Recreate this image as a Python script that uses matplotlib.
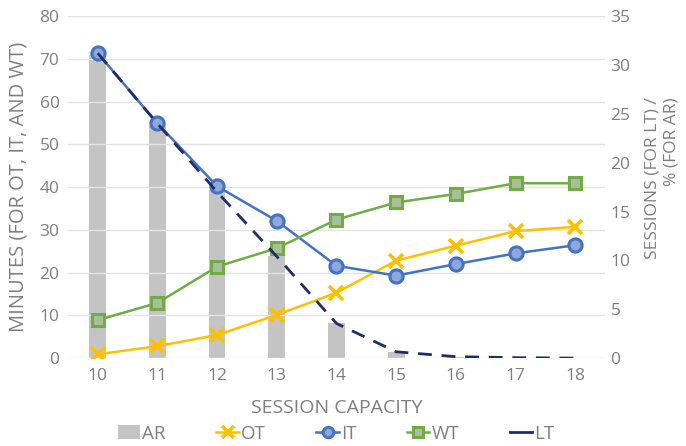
import matplotlib
matplotlib.use("Agg")
import matplotlib.pyplot as plt
from matplotlib.lines import Line2D
from matplotlib.patches import Patch
import numpy as np

plt.rcParams['font.family'] = ['Open Sans', 'DejaVu Sans']

capacity = ["10", "11", "12", "13", "14", "15", "16", "17", "18"]
ot = [0.9, 2.8, 5.4, 10.1, 15.3, 22.8, 26.3, 29.7, 30.7]
it = [71.3, 54.9, 40.2, 32.1, 21.6, 19.3, 22.0, 24.5, 26.4]
wt = [8.9, 12.9, 21.4, 25.7, 32.4, 36.4, 38.4, 40.9, 40.9]
ar = [31.0, 23.7, 17.2, 10.4, 3.55, 0.65, 0.1, 0.0, 0.0]
lt = [31.2, 24.0, 17.0, 10.4, 3.55, 0.65, 0.15, 0.05, 0.0]

text_color = "#7f7f7f"
c_ar = "#c4c4c4"
c_ot = "#ffc000"
c_it = "#4472c4"
c_it_face = "#8fa8d8"
c_wt = "#70ad47"
c_wt_face = "#a9bf9c"
c_lt = "#1f2d6b"

fig = plt.figure(figsize=(6.86, 4.46), dpi=100)
ax = fig.add_axes([0.099, 0.197, 0.783, 0.767])
ax2 = ax.twinx()

x = np.arange(len(capacity))

# left axis: minutes
ax.set_ylim(0, 80)
ax.set_yticks(range(0, 81, 10))
ax.set_xlim(-0.5, len(capacity) - 0.5)
ax.grid(axis='y', color="#e3e3e3", linewidth=1.0)
ax.set_axisbelow(True)

# right axis: sessions / percent
ax2.set_ylim(0, 35)
ax2.set_yticks(range(0, 36, 5))

ax2.bar(x, ar, width=0.28, color=c_ar, zorder=1)

ax.set_zorder(ax2.get_zorder() + 1)
ax.patch.set_visible(False)

ax.plot(x, ot, color=c_ot, lw=1.8, marker='x', ms=10, mew=2.6, zorder=3)
ax.plot(x, it, color=c_it, lw=1.8, marker='o', ms=9.5, mfc=c_it_face,
        mec=c_it, mew=2.2, zorder=3)
ax.plot(x, wt, color=c_wt, lw=1.8, marker='s', ms=8.5, mfc=c_wt_face,
        mec=c_wt, mew=2.2, zorder=3)

# LT belongs to the right axis; draw it on the front axes in right-axis units
lt_scaled = [v * 80 / 35 for v in lt]
ax.plot(x, lt_scaled, color=c_lt, lw=2.0, dashes=(5, 3.5), zorder=4)

for a in (ax, ax2):
    for s in a.spines.values():
        s.set_visible(False)
    a.tick_params(length=0, colors=text_color, labelsize=12.5)

ax.set_xticks(x)
ax.set_xticklabels(capacity)
ax.tick_params(axis='x', pad=7)
ax.tick_params(axis='y', pad=6)
ax2.tick_params(axis='y', pad=4)

ax.set_xlabel("SESSION CAPACITY", color=text_color, fontsize=14, labelpad=11)
ax.set_ylabel("MINUTES (FOR OT, IT, AND WT)", color=text_color, fontsize=14.5,
              labelpad=8)
fig.text(0.965, 0.601, "SESSIONS (FOR LT) /\n% (FOR AR)", rotation=90,
         color=text_color, fontsize=12.5, ha='center', va='center',
         multialignment='right', linespacing=1.3)

handles = [
    Patch(facecolor=c_ar, edgecolor='none'),
    Line2D([], [], color=c_ot, lw=1.8, marker='x', ms=9, mew=2.6),
    Line2D([], [], color=c_it, lw=1.8, marker='o', ms=7.5, mfc=c_it_face,
           mec=c_it, mew=2.2),
    Line2D([], [], color=c_wt, lw=1.8, marker='s', ms=7, mfc=c_wt_face,
           mec=c_wt, mew=2.2),
    Line2D([], [], color=c_lt, lw=2.0),
]
labels = ["AR", "OT", "IT", "WT", "LT"]
leg = fig.legend(handles, labels, loc='center', bbox_to_anchor=(0.49, 0.028),
                 ncol=5, frameon=False, fontsize=13.5, handlelength=1.2,
                 handletextpad=0.1, columnspacing=2.7, handleheight=0.8)
for t in leg.get_texts():
    t.set_color(text_color)

fig.savefig("out.png", dpi=100, facecolor='white')
